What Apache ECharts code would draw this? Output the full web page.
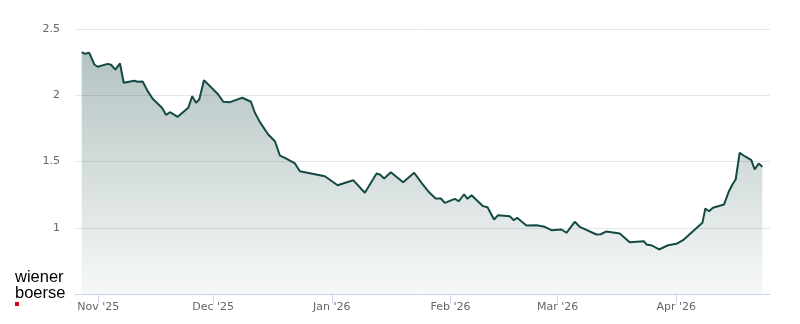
<!DOCTYPE html>
<html>
<head>
<meta charset="utf-8">
<script src="https://cdn.jsdelivr.net/npm/echarts@6/dist/echarts.min.js"></script>
<style>html,body{margin:0;padding:0;background:#fff}#c{width:800px;height:324px}</style>
</head>
<body>
<div id="c"></div>
<script>
// days since 1 Nov 2025
const dayOffsets = [-4.33,-3.47,-2.35,-1.04,-0.16,2.45,3.32,4.44,5.67,6.63,9.40,10.29,11.59,12.90,14.20,16.63,17.68,
  18.72,20.73,23.50,24.54,25.51,26.37,27.60,31.33,32.64,34.39,37.60,39.87,40.91,
  42.22,44.39,46.14,47.44,48.75,51.36,52.66,59.19,62.51,
  66.58,69.63,72.69,73.55,74.67,76.42,79.63,82.51,84.44,86.16,88.09,
  89.48,90.52,93.13,94.18,95.56,96.45,97.49,100.52,101.67,103.39,104.44,107.49,108.54,109.40,111.85,
  114.46,116.63,118.38,120.99,122.30,124.46,125.77,130.13,131.25,132.74,136.21,
  138.82,142.56,143.18,144.65,146.48,148.83,151.02,152.74,
  157.81,158.59,159.53,160.57,163.45,164.75,165.64,166.50,167.55,168.85,170.60,171.46,172.51,173.47];
const prices = [2.325,2.313,2.320,2.232,2.215,2.237,2.230,2.194,2.240,2.094,2.109,2.102,2.104,2.031,1.973,1.905,1.852,
  1.872,1.837,1.905,1.993,1.943,1.968,2.114,2.006,1.951,1.948,1.981,1.951,1.868,
  1.797,1.704,1.653,1.545,1.528,1.485,1.427,1.389,1.321,
  1.359,1.264,1.409,1.402,1.372,1.419,1.344,1.415,1.339,1.276,1.221,
  1.221,1.188,1.218,1.200,1.253,1.218,1.246,1.163,1.155,1.062,1.095,1.087,1.057,1.075,1.017,
  1.019,1.007,0.982,0.987,0.962,1.045,1.007,0.949,0.951,0.972,0.957,
  0.891,0.898,0.874,0.866,0.836,0.868,0.879,0.906,
  1.037,1.145,1.125,1.151,1.175,1.276,1.326,1.364,1.566,1.540,1.510,1.440,1.485,1.460];
const monthTicks = [0, 30, 61, 92, 120, 151];
const monthLabels = ["Nov '25", "Dec '25", "Jan '26", "Feb '26", "Mar '26", "Apr '26"];
const yTicks = [1, 1.5, 2, 2.5];

const chart = echarts.init(document.getElementById('c'), null, {renderer: 'canvas'});
const data = dayOffsets.map((d, i) => [d, prices[i]]);
chart.setOption({
  animation: false,
  grid: {left: 75, right: 30, top: 29, bottom: 30},
  xAxis: {
    type: 'value', min: -6.09, max: 175.47,
    axisLine: {show: true, lineStyle: {color: '#ccd6eb'}},
    axisTick: {show: true, customValues: monthTicks, length: 9, lineStyle: {color: '#ccd6eb'}},
    axisLabel: {customValues: monthTicks, margin: 8, color: '#666', fontSize: 11, fontFamily: 'DejaVu Sans',
      formatter: v => monthLabels[monthTicks.indexOf(Math.round(v))] || ''},
    splitLine: {show: false}
  },
  yAxis: {
    type: 'value', min: 0.5, max: 2.5, interval: 0.5,
    axisLine: {show: false}, axisTick: {show: false},
    axisLabel: {customValues: yTicks, margin: 15, color: '#666', fontSize: 11, fontFamily: 'DejaVu Sans'},
    splitLine: {lineStyle: {color: '#e6e6e6'}}
  },
  graphic: [
    {type: 'text', left: 15, top: 269, style: {text: 'wiener', font: '16.5px "Liberation Sans"', fill: '#000'}},
    {type: 'text', left: 15, top: 285, style: {text: 'boerse', font: '16.5px "Liberation Sans"', fill: '#000'}},
    {type: 'rect', shape: {x: 15, y: 302, width: 4, height: 4}, style: {fill: '#d0021b'}}
  ],
  series: [{
    type: 'line', data: data, showSymbol: false, smooth: false,
    lineStyle: {color: '#134a44', width: 2},
    itemStyle: {color: '#134a44'},
    areaStyle: {color: new echarts.graphic.LinearGradient(0, 0, 0, 1, [
      {offset: 0, color: 'rgba(20,70,65,0.46)'},
      {offset: 1, color: 'rgba(20,70,65,0.05)'}
    ])}
  }]
});
</script>
</body>
</html>
